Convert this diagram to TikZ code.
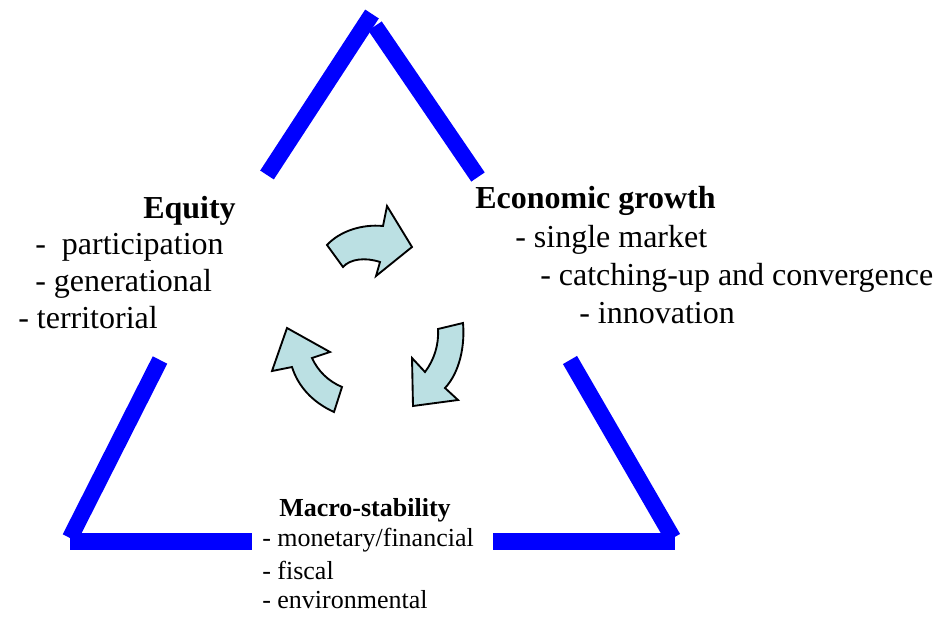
\documentclass[tikz,border=0pt]{standalone}
\usepackage{fontspec}
\setmainfont{Liberation Serif}
\usetikzlibrary{positioning}
\definecolor{sideblue}{RGB}{0,0,255}
\definecolor{cyclefill}{RGB}{187,224,227}

\begin{document}
\begin{tikzpicture}[x=0.75pt, y=-0.75pt,
  side/.style={draw=sideblue, line width=12.2pt},
  cyclearrow/.style={draw=black, fill=cyclefill, line width=1.4pt, line join=miter},
  bigtext/.style={anchor=base west, inner sep=0pt, font=\fontsize{24}{28}\selectfont},
  smalltext/.style={anchor=base west, inner sep=0pt, font=\fontsize{19.5}{23}\selectfont}]
  \useasboundingbox (0,0) rectangle (938,617);
  % Triangle ends
  \coordinate (apexL) at (372,14);
  \coordinate (apexR) at (375,26);
  \coordinate (eqTop) at (267,175);
  \coordinate (ecTop) at (478,177);
  \coordinate (eqLow) at (160,360);
  \coordinate (ecLow) at (570,360);
  \coordinate (cornerL) at (70,538);
  \coordinate (cornerR) at (673,538);
  \coordinate (baseL0) at (70,541.5);
  \coordinate (baseL1) at (252,541.5);
  \coordinate (baseR0) at (493,541.5);
  \coordinate (baseR1) at (675,541.5);
  % Sides
  \draw [side] (eqTop) -- (apexL);
  \draw [side] (apexR) -- (ecTop);
  \draw [side] (eqLow) -- (cornerL);
  \draw [side] (ecLow) -- (cornerR);
  \draw [side] (baseL0) -- (baseL1);
  \draw [side] (baseR0) -- (baseR1);
  % Labels
  \node [bigtext, font=\fontsize{24}{28}\selectfont\bfseries] (equity) at (143,218) {Equity};
  \node [bigtext] (particip) at (35,254) {-\ \ participation};
  \node [bigtext] (generat) at (35,291.5) {- generational};
  \node [bigtext] (territ) at (18,328.5) {- territorial};
  \node [bigtext, font=\fontsize{24}{28}\selectfont\bfseries] (growth) at (475,208) {Economic growth};
  \node [bigtext] (market) at (515,247) {- single market};
  \node [bigtext] (catchup) at (540,285) {- catching-up and convergence};
  \node [bigtext] (innov) at (579,323) {- innovation};
  \node [smalltext, font=\fontsize{19.5}{23}\selectfont\bfseries] (macro) at (279,516) {Macro-stability};
  \node [smalltext] (monetary) at (262,546.5) {- monetary/financial};
  \node [smalltext] (fiscal) at (262,579) {- fiscal};
  \node [smalltext] (environ) at (262,608) {- environmental};
  % Cycle arrows
  \draw [cyclearrow] (327,245) .. controls (340,231) and (362,224) .. (383,226)
    -- (387,206) -- (412,247) -- (376,276) -- (380,262)
    .. controls (365,257) and (350,259) .. (343,267) -- cycle;
  \draw [cyclearrow] (438,329) -- (463,323) .. controls (465,345) and (460,372) .. (445,388)
    -- (458,400) -- (413,406) -- (412,358) -- (425,372)
    .. controls (434,360) and (439,345) .. cycle;
  \draw [cyclearrow] (342,387) -- (334,412) .. controls (312,402) and (298,386) .. (292,367)
    -- (272,371) -- (287,328) -- (330,352) -- (312,358)
    .. controls (318,371) and (328,381) .. cycle;
\end{tikzpicture}
\end{document}
